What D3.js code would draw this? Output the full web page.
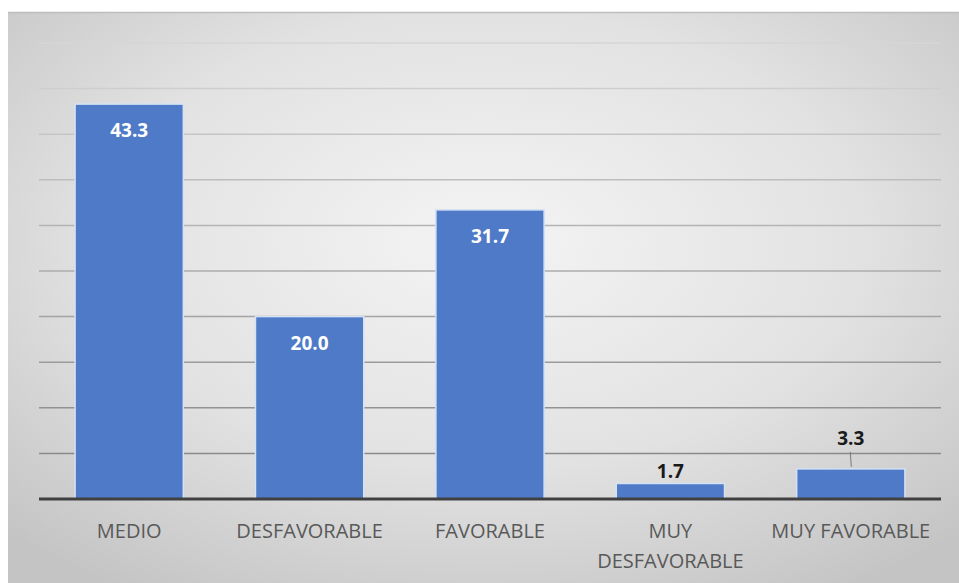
<!DOCTYPE html>
<html>
<head>
<meta charset="utf-8">
<script src="https://cdn.jsdelivr.net/npm/d3@7"></script>
<style>
  body { margin: 0; background: #fff; }
  svg { display: block; }
</style>
</head>
<body>
<script>
const categories = ['MEDIO', 'DESFAVORABLE', 'FAVORABLE', 'MUY DESFAVORABLE', 'MUY FAVORABLE'];
const values = [43.3, 20.0, 31.7, 1.7, 3.3];
const gridTicks = [0, 5, 10, 15, 20, 25, 30, 35, 40, 45, 50];

const W = 959, H = 583;
const x0 = 39, x1 = 941, yTop = 43, yBase = 499;

const svg = d3.select('body').append('svg')
    .attr('width', W)
    .attr('height', H);

const defs = svg.append('defs');
const grad = defs.append('radialGradient')
    .attr('id', 'bg')
    .attr('cx', '50%').attr('cy', '40%').attr('r', '72%');
grad.append('stop').attr('offset', '0%').attr('stop-color', '#f4f4f4');
grad.append('stop').attr('offset', '55%').attr('stop-color', '#e2e2e2');
grad.append('stop').attr('offset', '100%').attr('stop-color', '#c4c4c4');

// chart area background
svg.append('rect')
    .attr('x', 8).attr('y', 12)
    .attr('width', W - 8).attr('height', H - 12)
    .attr('fill', 'url(#bg)');
svg.append('line')
    .attr('x1', 8).attr('x2', W)
    .attr('y1', 12.5).attr('y2', 12.5)
    .attr('stroke', '#bdbdbd').attr('stroke-width', 1.5);

const x = d3.scaleBand()
    .domain(categories)
    .range([x0, x1])
    .paddingInner(0.4)
    .paddingOuter(0.2);

const y = d3.scaleLinear()
    .domain([0, 50])
    .range([yBase, yTop]);

const gridColor = d3.scaleLinear()
    .domain([50, 5])
    .range(['#d6d6d6', '#8a8a8a']);

// gridlines
svg.append('g').selectAll('line')
    .data(gridTicks.filter(d => d > 0))
    .enter()
    .append('line')
    .attr('x1', x0).attr('x2', x1)
    .attr('y1', d => y(d)).attr('y2', d => y(d))
    .attr('stroke', d => gridColor(d))
    .attr('stroke-width', 1.5);

// bars
svg.append('g').selectAll('rect')
    .data(values)
    .enter()
    .append('rect')
    .attr('x', (d, i) => x(categories[i]))
    .attr('y', d => y(d))
    .attr('width', x.bandwidth())
    .attr('height', d => y(0) - y(d))
    .attr('fill', '#4e7ac7')
    .attr('stroke', '#d4e2f4')
    .attr('stroke-width', 1.5);

// baseline
svg.append('line')
    .attr('x1', x0).attr('x2', x1)
    .attr('y1', y(0)).attr('y2', y(0))
    .attr('stroke', '#404040')
    .attr('stroke-width', 3);

// value labels
svg.append('g').selectAll('text')
    .data(values)
    .enter()
    .append('text')
    .attr('x', (d, i) => x(categories[i]) + x.bandwidth() / 2)
    .attr('y', d => {
        if (d > 10) return y(d) + 33;
        if (d < 2) return y(d) - 5;
        return y(d) - 24;
    })
    .attr('text-anchor', 'middle')
    .attr('font-family', 'Open Sans, sans-serif')
    .attr('font-weight', 'bold')
    .attr('font-size', '19px')
    .attr('fill', d => d > 10 ? '#ffffff' : '#1a1a1a')
    .text(d => d.toFixed(1));

// leader line for 3.3
const iLead = values.indexOf(3.3);
svg.append('line')
    .attr('x1', x(categories[iLead]) + x.bandwidth() / 2 - 0.5)
    .attr('x2', x(categories[iLead]) + x.bandwidth() / 2 + 0.5)
    .attr('y1', y(3.3) - 17)
    .attr('y2', y(3.3) - 2)
    .attr('stroke', '#7a7a7a')
    .attr('stroke-width', 1);

// category labels
const catText = svg.append('g').selectAll('text')
    .data(categories)
    .enter()
    .append('text')
    .attr('x', d => x(d) + x.bandwidth() / 2)
    .attr('y', 538)
    .attr('text-anchor', 'middle')
    .attr('font-family', 'Open Sans, sans-serif')
    .attr('font-size', '20px')
    .attr('fill', '#595959');

catText.each(function (d) {
    const t = d3.select(this);
    const lines = d === 'MUY DESFAVORABLE' ? ['MUY', 'DESFAVORABLE'] : [d];
    lines.forEach((s, k) => {
        t.append('tspan')
            .attr('x', x(d) + x.bandwidth() / 2)
            .attr('dy', k === 0 ? 0 : 30)
            .text(s);
    });
});
</script>
</body>
</html>
